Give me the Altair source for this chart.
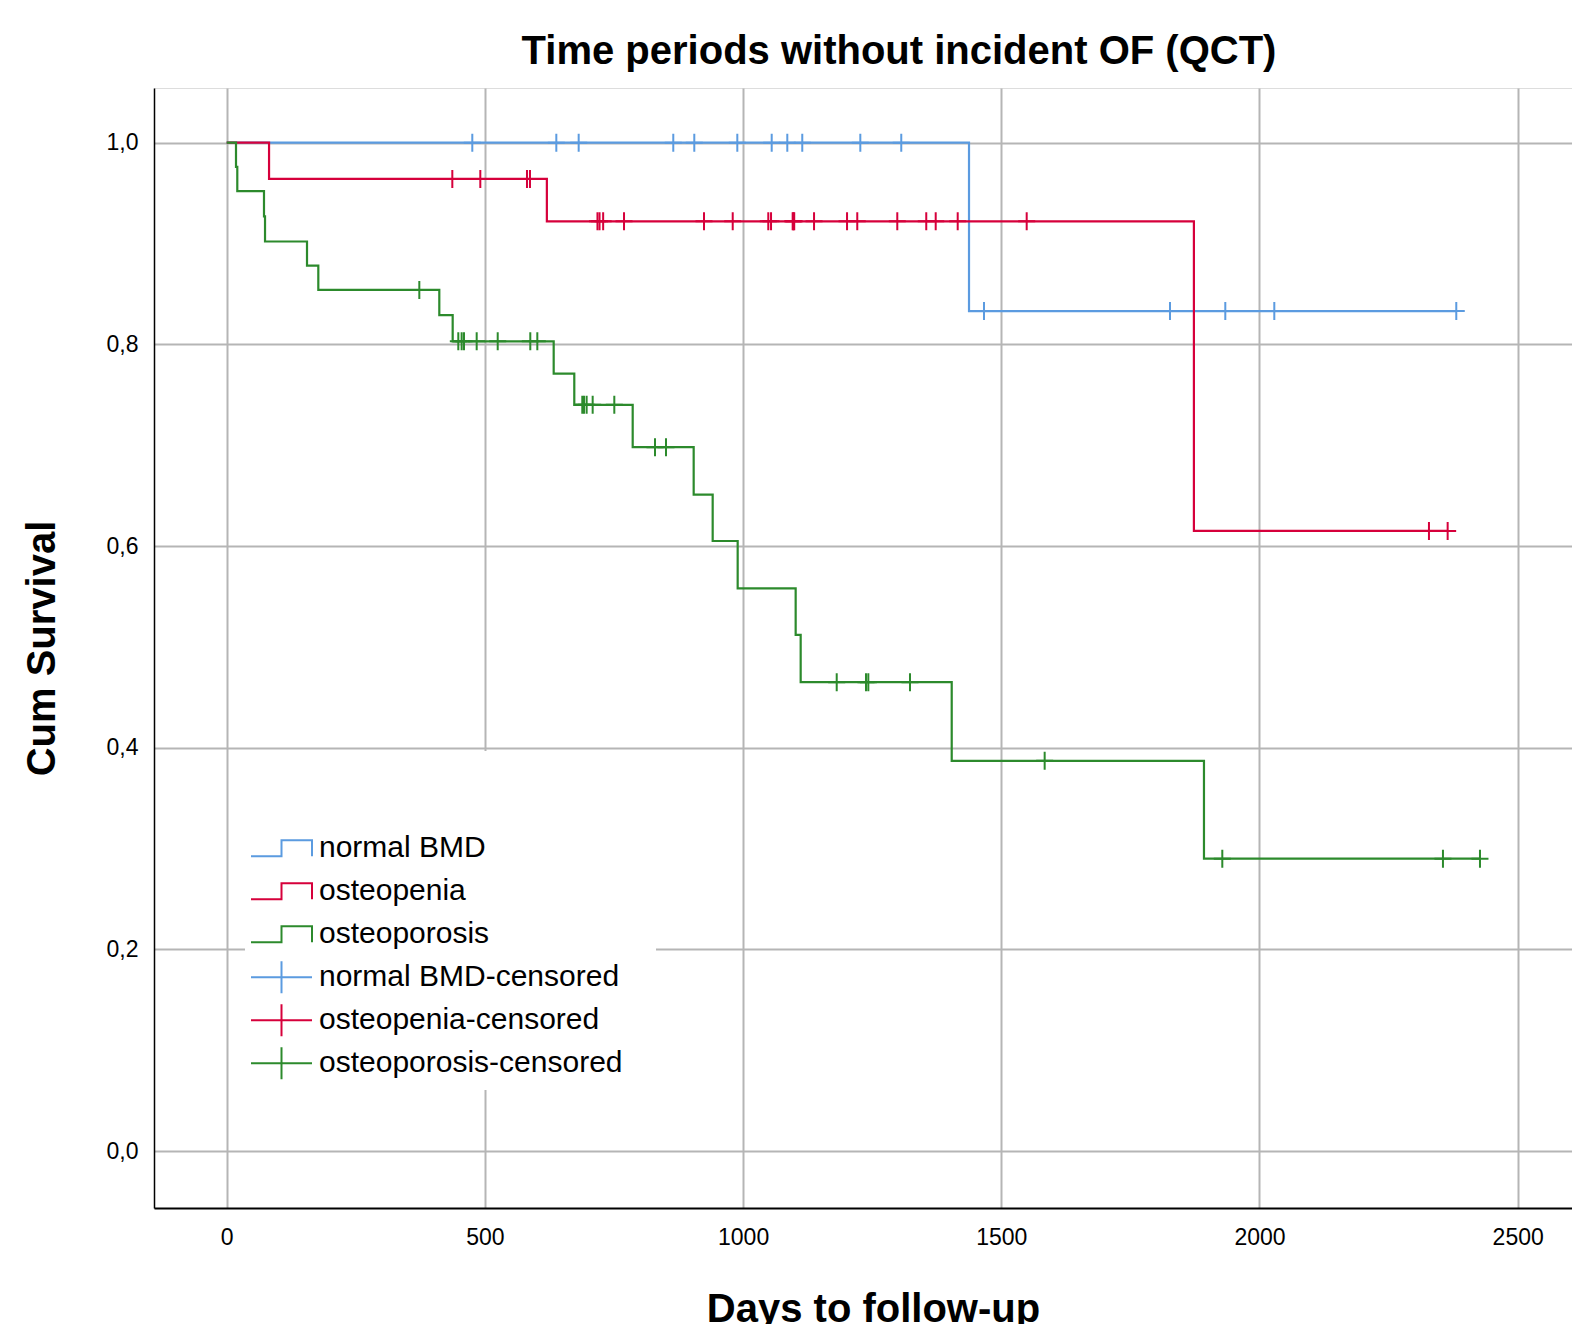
import altair as alt
import pandas as pd

# ---------------- data ----------------
groups = ["normal BMD", "osteopenia", "osteoporosis"]
censored_labels = ["normal BMD-censored", "osteopenia-censored", "osteoporosis-censored"]
group_colors = ["#5b9be0", "#d6003b", "#2c8a2c"]

# Kaplan-Meier step curves (time in days, cumulative survival after that time)
blue_step_t = [0, 1437.5, 2381.1]
blue_step_s = [1.0, 0.833, 0.833]

red_step_t = [0, 82.0, 620.0, 1873.0, 2364.4]
red_step_s = [1.0, 0.964, 0.922, 0.615, 0.615]

green_step_t = [0, 18.0, 20.5, 72.2, 74.2, 155.5, 177.4, 411.7, 437.6, 633.2,
                673.1, 786.2, 904.3, 941.1, 989.5, 1101.8, 1111.5, 1404.0,
                1892.5, 2427.0]
green_step_s = [1.0, 0.976, 0.952, 0.927, 0.902, 0.878, 0.854, 0.829, 0.803, 0.771,
                0.740, 0.698, 0.651, 0.605, 0.558, 0.512, 0.465, 0.387,
                0.290, 0.290]

# censored observations (time, survival level at that time)
blue_cens_t = [475.6, 638.3, 681.6, 864.8, 905.5, 988.8, 1055.4, 1085.6, 1114.6,
               1227.0, 1306.3, 1466.5, 1826.7, 1933.8, 2028.7, 2381.1]
blue_cens_s = [1.0] * 11 + [0.833] * 5

red_cens_t = [436.9, 491.1, 581.5, 587.3,
              718.0, 722.0, 729.0, 769.4, 924.3, 979.9, 1048.8, 1054.1, 1096.0,
              1097.5, 1099.0, 1137.4, 1201.3, 1221.1, 1298.6, 1354.7, 1373.0,
              1415.6, 1549.2,
              2328.2, 2364.4]
red_cens_s = [0.964] * 4 + [0.922] * 19 + [0.615] * 2

green_cens_t = [373.0,
                448.5, 455.0, 459.5, 484.1, 524.8, 587.9, 601.5,
                688.6, 691.9, 697.0, 708.7, 750.6,
                829.4, 850.7,
                1181.3, 1238.0, 1242.5, 1323.2,
                1584.0,
                1928.0, 2355.3, 2427.0]
green_cens_s = ([0.854] + [0.803] * 7 + [0.740] * 5 + [0.698] * 2 +
                [0.465] * 4 + [0.387] + [0.290] * 3)

x_ticks = [0, 500, 1000, 1500, 2000, 2500]
y_ticks = [0.0, 0.2, 0.4, 0.6, 0.8, 1.0]

legend_labels = groups + censored_labels
legend_colors = group_colors + group_colors
step_symbol = "M-1,0.262H0V-0.262H1V0.262"
cross_legend = "M-1,0H1M0,-0.525V0.525"
cross_mark = "M-1,0H1M0,-1.06V1.06"

FONT = "Liberation Sans"

x_scale = alt.Scale(domain=[-140.8, 2605.2], nice=False, zero=False)
y_scale = alt.Scale(domain=[-0.0564, 1.0542], nice=False, zero=False)
color_scale = alt.Scale(domain=legend_labels, range=legend_colors)
shape_scale = alt.Scale(domain=legend_labels,
                        range=[step_symbol] * 3 + [cross_legend] * 3)

x_axis = alt.Axis(values=x_ticks, format="d", grid=True, gridColor="#b5b5b5",
                  gridWidth=2, ticks=False, domainColor="black", domainWidth=2,
                  labelFont=FONT, labelFontSize=23, labelColor="black",
                  labelPadding=18, labelFlush=False, labelOverlap=False,
                  title="Days to follow-up", titleFont=FONT, titleFontSize=40,
                  titleFontWeight="bold", titleColor="black",
                  titleX=719, titleY=113, titleAlign="center",
                  titleBaseline="alphabetic")

y_axis = alt.Axis(values=y_ticks, grid=True, gridColor="#b5b5b5", gridWidth=2,
                  ticks=False, domainColor="black", domainWidth=1.5,
                  labelExpr="replace(format(datum.value, '.1f'), '.', ',')",
                  labelFont=FONT, labelFontSize=23, labelColor="black",
                  labelPadding=16, labelFlush=False, labelOverlap=False,
                  title="Cum Survival", titleFont=FONT, titleFontSize=40,
                  titleFontWeight="bold", titleColor="black",
                  titleAngle=270, titleX=-112, titleY=560,
                  titleAlign="center", titleBaseline="middle")

# invisible legend title only reserves the white space above the entries
legend = alt.Legend(title="0" * 18, orient="none", legendX=91, legendY=663,
                    fillColor="white", padding=5,
                    titleFont=FONT, titleFontSize=40, titlePadding=31,
                    titleLimit=3000, titleOpacity=0,
                    symbolSize=3721, symbolStrokeWidth=2, symbolOpacity=1,
                    symbolFillColor="transparent",
                    labelFont=FONT, labelFontSize=30, labelColor="black",
                    labelOffset=6, labelLimit=1000, clipHeight=42.7, rowPadding=0)

layers = []
step_sets = [(blue_step_t, blue_step_s), (red_step_t, red_step_s),
             (green_step_t, green_step_s)]
cens_sets = [(blue_cens_t, blue_cens_s), (red_cens_t, red_cens_s),
             (green_cens_t, green_cens_s)]

for i, (g, col) in enumerate(zip(groups, group_colors)):
    st, ss = step_sets[i]
    df = pd.DataFrame({"t": st, "s": ss})
    enc = dict(x=alt.X("t:Q", scale=x_scale, axis=x_axis),
               y=alt.Y("s:Q", scale=y_scale, axis=y_axis))
    layers.append(
        alt.Chart(df).mark_line(interpolate="step-after", strokeWidth=2.2,
                                color=col).encode(order=alt.Order("t:Q"), **enc)
    )

for i, (g, col) in enumerate(zip(groups, group_colors)):
    ct, cs = cens_sets[i]
    df = pd.DataFrame({"t": ct, "s": cs})
    layers.append(
        alt.Chart(df).mark_point(shape=cross_mark, size=289, strokeWidth=2,
                                 filled=False, color=col, opacity=1).encode(
            x=alt.X("t:Q", scale=x_scale),
            y=alt.Y("s:Q", scale=y_scale))
    )

# legend-only layer: one row per legend entry, no position -> nothing drawn
legend_df = pd.DataFrame({"label": legend_labels,
                          "t": [None] * 6, "s": [None] * 6})
layers.append(
    alt.Chart(legend_df).mark_point(filled=False, strokeWidth=2, opacity=1).encode(
        x=alt.X("t:Q", scale=x_scale),
        y=alt.Y("s:Q", scale=y_scale),
        color=alt.Color("label:N", scale=color_scale, legend=legend),
        shape=alt.Shape("label:N", scale=shape_scale, legend=legend),
    )
)

chart = alt.layer(*layers).properties(
    width=1418, height=1120,
    autosize=alt.AutoSizeParams(type="none"),
    padding={"left": 146, "top": 80, "right": 0, "bottom": 116},
    title=alt.TitleParams("Time periods without incident OF (QCT)", font=FONT,
                          fontSize=40, fontWeight="bold", color="black",
                          anchor="middle", dx=36, dy=40, offset=24,
                          baseline="alphabetic"),
).configure_view(stroke="transparent").configure(background="white")

chart.save("out.html", embed_options={"renderer": "svg", "actions": False})
